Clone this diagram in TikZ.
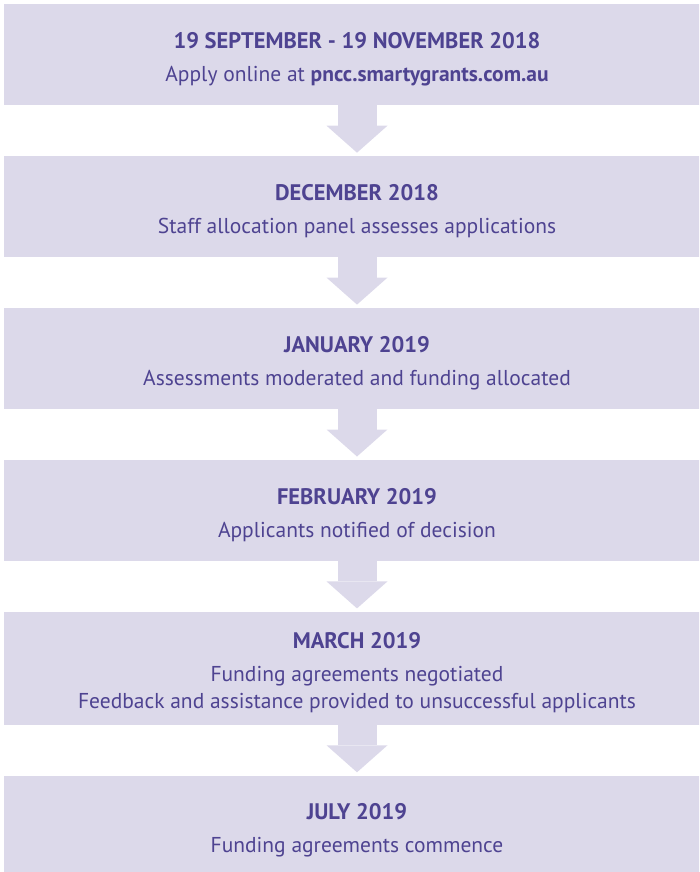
\documentclass[tikz,border=0pt]{standalone}
\usepackage{fontspec}
\setmainfont{PT Sans}
\usepackage{xcolor}
\usetikzlibrary{positioning,arrows.meta}
\definecolor{boxfill}{HTML}{DCD9EA}
\definecolor{boxtext}{HTML}{4E4391}
\newcommand{\steptitle}[1]{{\fontsize{22.5}{27}\selectfont\bfseries\rule{0pt}{25pt}#1}\\[6pt]}

\begin{document}
\begin{tikzpicture}[x=1pt,y=-1pt,node distance=50.5pt,
        every node/.style = {shape=rectangle, fill=boxfill,
        text=boxtext, align=center, inner sep=0pt,
        minimum width=706pt, minimum height=101pt,
        font=\fontsize{21.5}{27}\selectfont},
        flow/.style = {draw=boxfill, line width=39pt, shorten >=3pt,
        -{Triangle[width=61pt,length=27pt,line width=0pt]}}]
        \useasboundingbox (0,0) rectangle (699,872);
        \clip (0,0) rectangle (699,872);
	        \node (sept) at (357,54.5)
                {\steptitle{19 SEPTEMBER - 19 NOVEMBER 2018}
                Apply online at \textbf{pncc.smartygrants.com.au}};
	        \node (dec) [below=of sept]
                {\steptitle{DECEMBER 2018}
                Staff allocation panel assesses applications};
	        \node (jan) [below=of dec]
                {\steptitle{JANUARY 2019}
                Assessments moderated and funding allocated};
	        \node (feb) [below=of jan]
                {\steptitle{FEBRUARY 2019}
                Applicants notified of decision};
	        \node (mar) [below=of feb, minimum height=113pt]
                {\steptitle{MARCH 2019}
                Funding agreements negotiated\\
                Feedback and assistance provided to unsuccessful applicants};
	        \node (jul) [below=of mar]
                {\steptitle{JULY 2019}
                Funding agreements commence};
            % arrows between the steps
            \draw[flow] (sept) -- (dec);
            \draw[flow] (dec) -- (jan);
            \draw[flow] (jan) -- (feb);
            \draw[flow] (feb) -- (mar);
            \draw[flow] (mar) -- (jul);
        \end{tikzpicture}
\end{document}
